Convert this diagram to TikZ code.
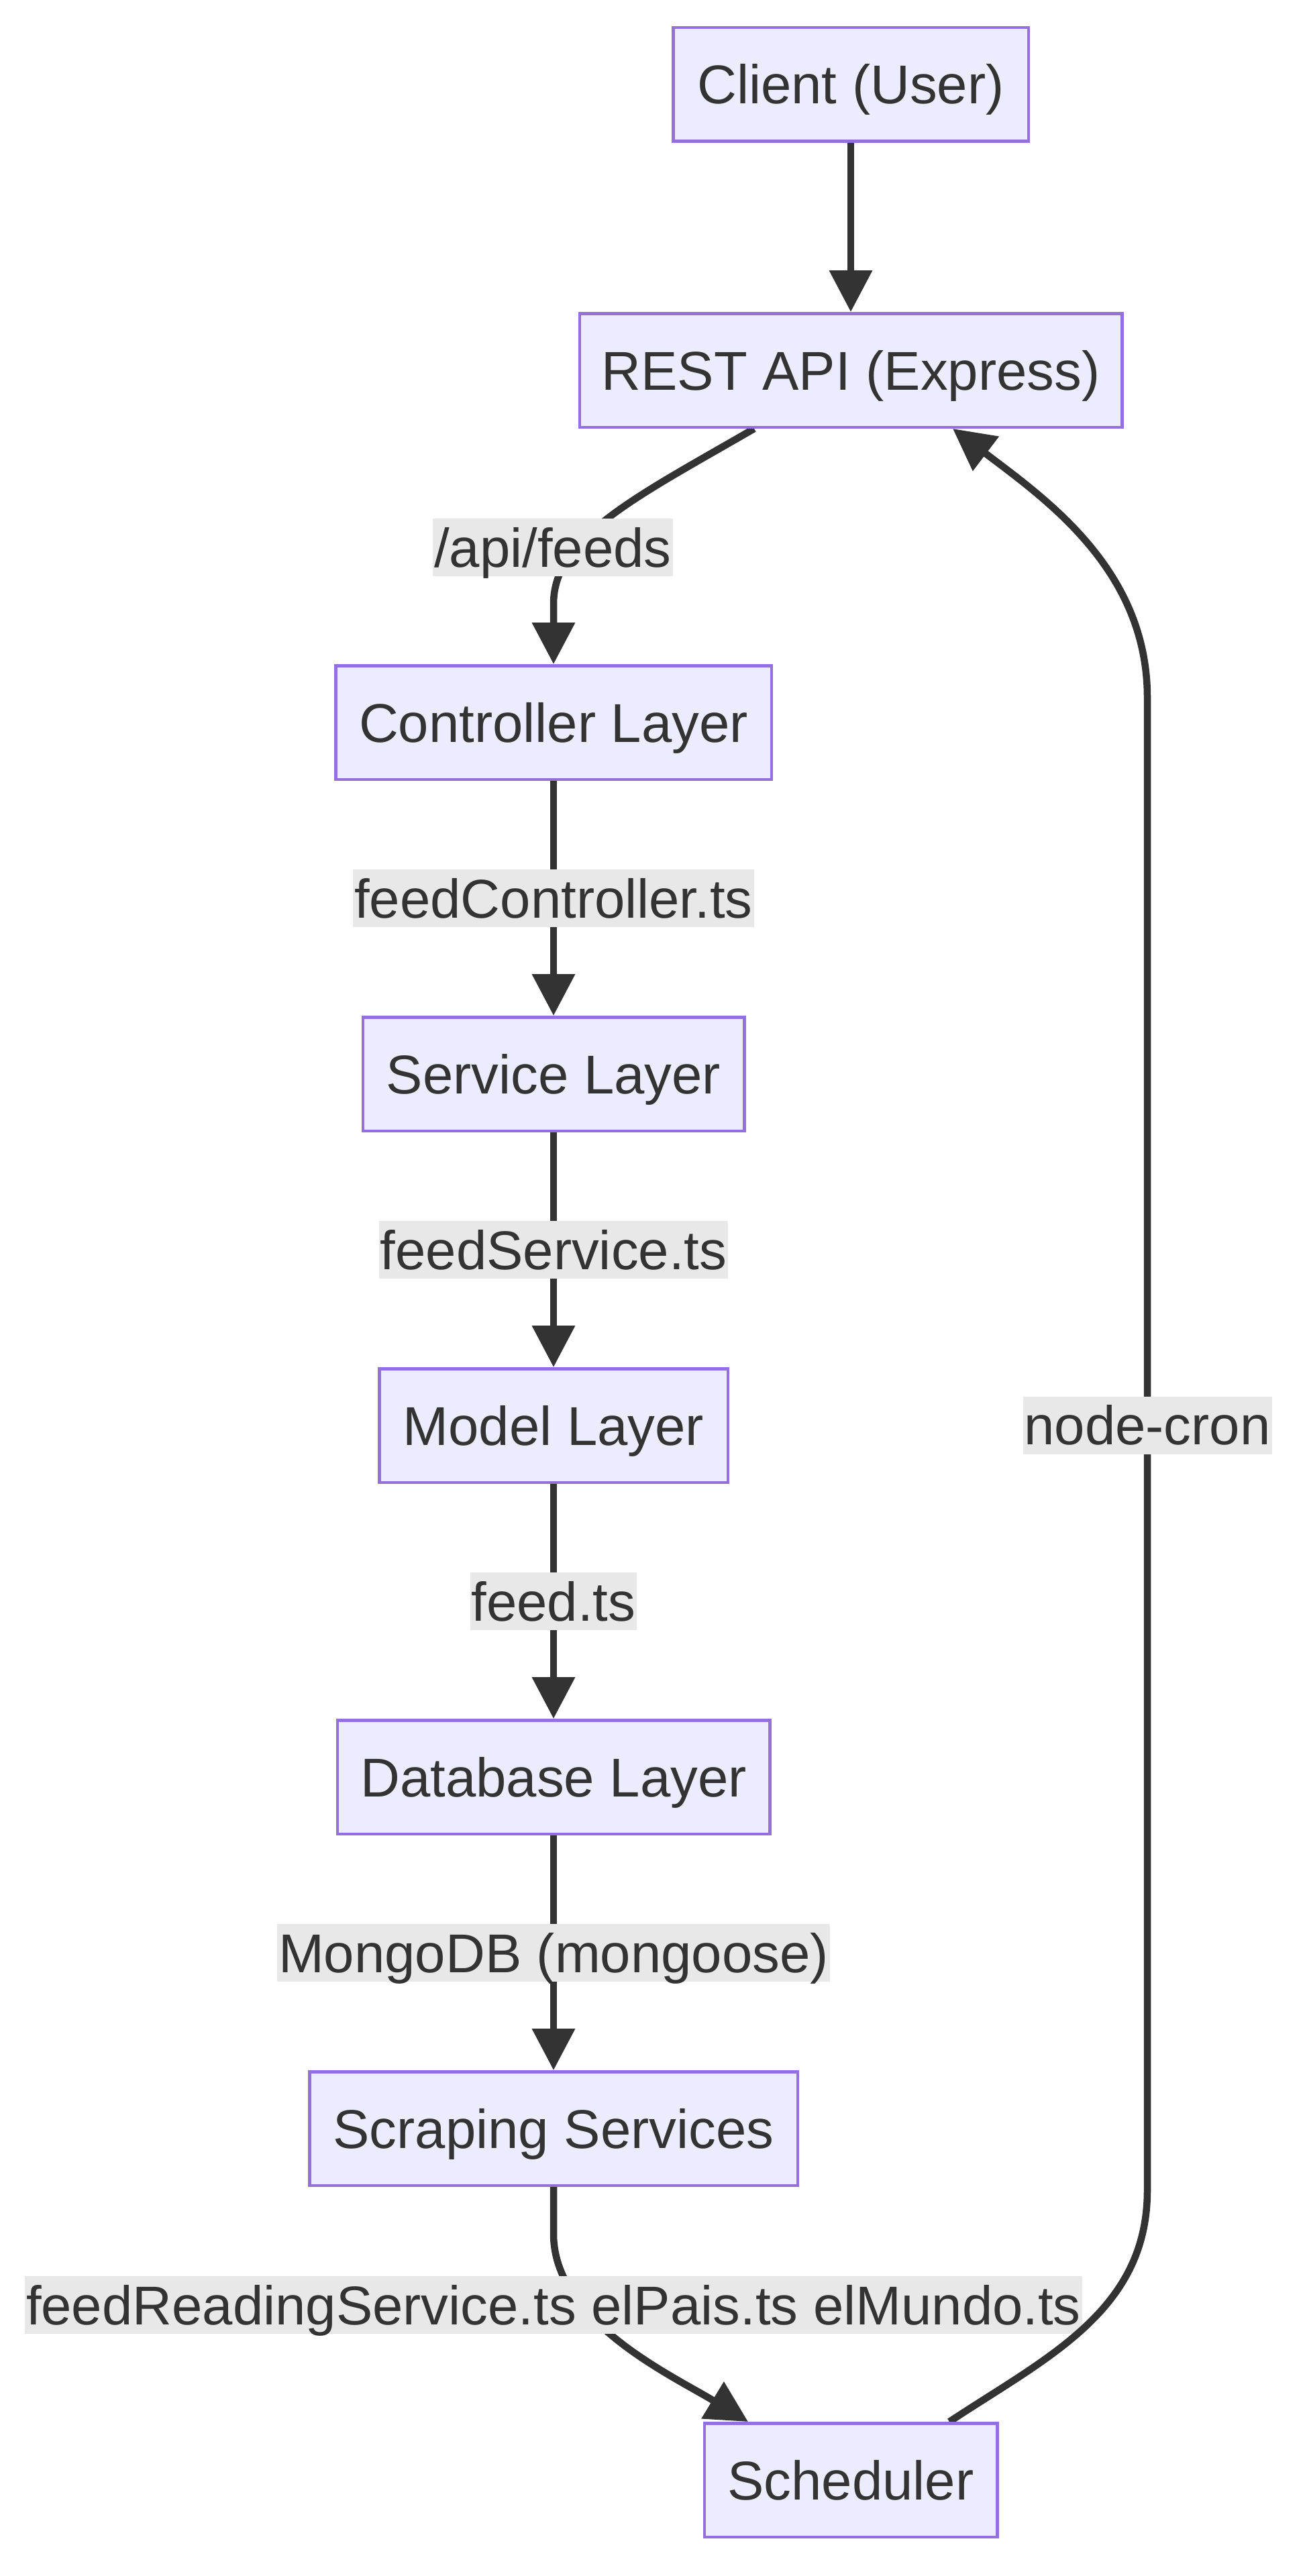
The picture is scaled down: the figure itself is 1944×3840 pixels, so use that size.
\documentclass[tikz,border=0pt]{standalone}
\usepackage{fontspec}
\setmainfont{Liberation Sans}
\usetikzlibrary{arrows.meta}
\definecolor{nodefill}{HTML}{ECECFF}
\definecolor{nodeline}{HTML}{9370DB}
\definecolor{ink}{HTML}{333333}
\definecolor{lblfill}{HTML}{E8E8E8}
\pgfdeclarelayer{edges}
\pgfsetlayers{edges,main}
\tikzset{
  box/.style={draw=nodeline, fill=nodefill, line width=4.5pt, minimum height=169.5pt,
    inner sep=0pt, text=ink, font=\fontsize{81.5pt}{98pt}\selectfont,
    text height=72pt, text depth=14pt},
  lbl/.style={fill=lblfill, inner xsep=2pt, inner ysep=0pt, text=ink,
    font=\fontsize{81.5pt}{98pt}\selectfont, text height=72pt, text depth=14pt},
  edge/.style={draw=ink, line width=10.5pt, -{Triangle[length=62pt,width=62pt]}},
}
\begin{document}
\begin{tikzpicture}[x=1pt,y=-1pt]
\useasboundingbox (0,0) rectangle (1944,3840);
\node[box, minimum width=529.5pt] (client) at (1268,126) {Client (User)};
\node[box, minimum width=808.5pt] (rest) at (1268,552) {REST API (Express)};
\node[box, minimum width=649.5pt] (ctrl) at (825,1077) {Controller Layer};
\node[box, minimum width=568.5pt] (svc) at (825,1601) {Service Layer};
\node[box, minimum width=519.5pt] (model) at (825,2125) {Model Layer};
\node[box, minimum width=644.5pt] (db) at (825,2649) {Database Layer};
\node[box, minimum width=727.5pt] (scrape) at (825,3173) {Scraping Services};
\node[box, minimum width=436.5pt] (sched) at (1268,3697) {Scheduler};
\begin{pgfonlayer}{edges}
\draw[edge] (client) -- (rest);
\draw[edge] ([xshift=-144pt]rest.south) .. controls (950,740) and (825,800) .. (825,900) -- (ctrl.north);
\node[lbl] (lapi) at (824,816) {/api/feeds};
\draw[edge] (ctrl) -- node[lbl] (lctrl) {feedController.ts} (svc);
\draw[edge] (svc) -- node[lbl] (lsvc) {feedService.ts} (model);
\draw[edge] (model) -- node[lbl] (lmodel) {feed.ts} (db);
\draw[edge] (db) -- node[lbl] (ldb) {MongoDB (mongoose)} (scrape);
\draw[edge] (scrape.south) -- (825,3330) .. controls (825,3460) and (1000,3540) .. ([xshift=-153pt]sched.north);
\node[lbl] (lscrape) at (825,3436) {feedReadingService.ts elPais.ts elMundo.ts};
\draw[edge] ([xshift=147pt]sched.north) .. controls (1560,3514) and (1710,3445) .. (1710,3265)
  -- node[lbl, pos=0.5124] (lcron) {node-cron} (1710,1040)
  .. controls (1710,850) and (1560,745) .. ([xshift=152pt]rest.south);
\end{pgfonlayer}
\end{tikzpicture}
\end{document}
